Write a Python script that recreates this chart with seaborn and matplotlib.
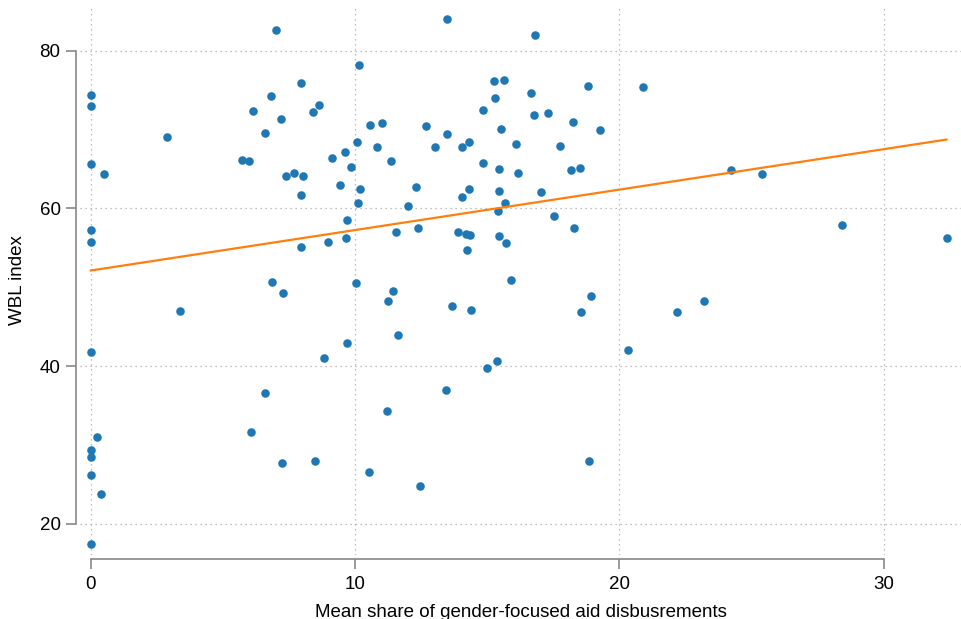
import matplotlib
matplotlib.use("Agg")
import matplotlib.pyplot as plt
import seaborn as sns
import pandas as pd

share = [
    0.0, 0.0, 0.0, 0.0, 0.0, 0.0, 0.0, 0.0, 0.0, 0.0,
    0.50, 0.26, 0.40, 2.88, 3.37,
    7.02, 7.96, 6.82, 6.15, 8.42, 8.65, 7.20, 6.61, 5.74, 6.00,
    7.38, 7.69, 8.02, 7.95, 7.96, 6.86, 7.30,
    6.61, 6.08, 7.24, 8.51,
    13.48, 16.80, 10.16, 15.28, 15.64, 18.83, 16.67, 15.32, 14.84, 16.79,
    17.29, 18.27, 10.58, 11.01, 12.70, 15.54, 19.28, 13.48, 10.09, 10.83,
    13.02, 14.06, 14.30, 16.08, 17.76, 9.14, 9.61, 9.84, 11.37, 14.83,
    15.47, 16.18, 18.18, 18.51, 9.44, 10.18, 10.11, 12.31, 12.00, 14.05,
    14.33, 15.44, 17.06, 15.41, 15.68, 17.54, 18.30, 9.69, 9.67, 9.00,
    11.54, 12.37, 13.91, 14.21, 14.35, 15.46, 15.70, 14.24, 15.89, 10.05,
    11.43, 11.27, 18.95,
    13.66, 14.41, 18.55, 11.63, 9.71, 8.85, 20.32, 14.98, 15.38, 13.43,
    11.21, 18.85, 10.54, 12.45,
    20.91, 24.23, 25.41, 28.44, 32.39, 23.19, 22.17,
]
wbl = [
    74.4, 73.0, 65.6, 57.3, 55.7, 41.8, 29.35, 28.4, 26.2, 17.4,
    64.3, 31.0, 23.8, 69.1, 47.0,
    82.6, 75.9, 74.2, 72.4, 72.2, 73.1, 71.3, 69.5, 66.1, 66.0,
    64.1, 64.5, 64.1, 61.7, 55.1, 50.7, 49.3,
    36.6, 31.6, 27.7, 28.0,
    84.06, 82.0, 78.2, 76.1, 76.3, 75.5, 74.6, 73.96, 72.5, 71.9,
    72.1, 71.0, 70.6, 70.8, 70.5, 70.1, 70.0, 69.4, 68.4, 67.8,
    67.8, 67.8, 68.4, 68.2, 67.95, 66.4, 67.1, 65.2, 66.0, 65.8,
    65.0, 64.5, 64.9, 65.1, 62.9, 62.4, 60.7, 62.7, 60.3, 61.4,
    62.4, 62.2, 62.1, 59.7, 60.7, 59.0, 57.55, 58.5, 56.2, 55.7,
    57.0, 57.5, 57.0, 56.8, 56.6, 56.45, 55.6, 54.7, 50.9, 50.5,
    49.55, 48.2, 48.9,
    47.65, 47.15, 46.8, 43.9, 42.9, 41.0, 42.0, 39.8, 40.7, 36.9,
    34.25, 27.9, 26.5, 24.8,
    75.4, 64.9, 64.4, 57.9, 56.3, 48.2, 46.8,
]

x_label = "Mean share of gender-focused aid disbusrements"
y_label = "WBL index"
x_ticks = [0, 10, 20, 30]
y_ticks = [20, 40, 60, 80]

df = pd.DataFrame({x_label: share, y_label: wbl})

sns.set_theme(style="white")
plt.rcParams["font.family"] = ["Liberation Sans", "DejaVu Sans"]

fig = plt.figure(figsize=(9.61, 6.19), dpi=100)
ax = fig.add_axes([0.0832, 0.1034, 1 - 0.0832, 0.992 - 0.1034])

sns.regplot(data=df, x=x_label, y=y_label, ax=ax, ci=None,
            scatter_kws=dict(s=38, color="#1f77b4", alpha=1, linewidths=0),
            line_kws=dict(color="#ff7f0e", lw=1.6))

ax.set_xlim(-0.40, 32.93)
ax.set_ylim(16.03, 85.8)
ax.set_xticks(x_ticks)
ax.set_yticks(y_ticks)
ax.grid(True, linestyle=(0, (1, 3)), color="#aaaaaa", linewidth=0.9)
ax.set_axisbelow(True)

for s in ["top", "right"]:
    ax.spines[s].set_visible(False)
for s in ["left", "bottom"]:
    ax.spines[s].set_color("#888888")
    ax.spines[s].set_linewidth(1.2)
    ax.spines[s].set_position(("outward", 3))
ax.spines["left"].set_bounds(20, 80)
ax.spines["bottom"].set_bounds(0, 30)

ax.tick_params(axis="both", direction="out", length=7, width=1.2,
               color="#888888", labelsize=13.5, labelcolor="black",
               left=True, bottom=True)
ax.tick_params(axis="x", pad=5)
ax.tick_params(axis="y", pad=4)
ax.set_xlabel(x_label, fontsize=13.5, color="black", labelpad=8)
ax.set_ylabel(y_label, fontsize=13.5, color="black", labelpad=10)

fig.savefig("out.png", dpi=100)
